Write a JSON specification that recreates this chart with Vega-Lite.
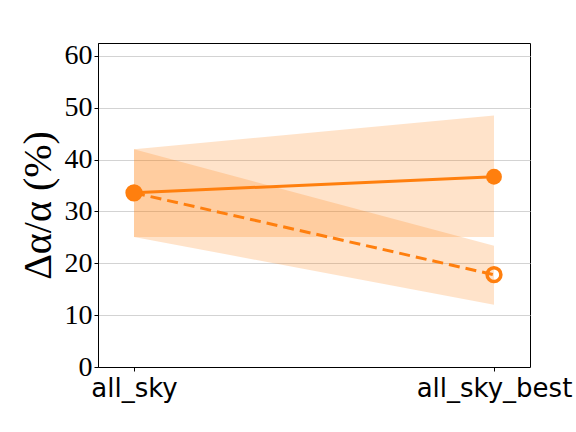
{
  "$schema": "https://vega.github.io/schema/vega-lite/v6.json",
  "autosize": {"type": "none"},
  "padding": {"left": 98, "top": 43, "right": 46, "bottom": 65},
  "width": 432,
  "height": 324,
  "background": "white",
  "config": {
    "view": {"stroke": "black", "strokeWidth": 1},
    "axis": {"domainColor": "black", "tickColor": "black", "gridColor": "#d3d3d3"}
  },
  "data": {"values": [
    {"case": "all_sky", "series": "solid", "value": 33.6, "lo": 25.1, "hi": 42.0},
    {"case": "all_sky_best", "series": "solid", "value": 36.7, "lo": 25.1, "hi": 48.5},
    {"case": "all_sky", "series": "dashed", "value": 33.6, "lo": 25.1, "hi": 42.0},
    {"case": "all_sky_best", "series": "dashed", "value": 17.8, "lo": 12.0, "hi": 23.4}
  ]},
  "encoding": {
    "x": {"field": "case", "type": "nominal", "scale": {"type": "point", "padding": 0.1},
      "axis": {"title": null, "labelAngle": 0, "labelFont": "DejaVu Sans", "labelFontSize": 26, "labelColor": "black", "grid": false, "tickSize": 4, "labelPadding": 4}}
  },
  "layer": [
    {
      "mark": {"type": "area", "color": "#ff7f0e", "opacity": 0.22},
      "encoding": {
        "y": {"field": "lo", "type": "quantitative", "scale": {"domain": [0, 62.5], "nice": false},
          "axis": {"values": [0, 10, 20, 30, 40, 50, 60], "title": "Δα/α (%)", "titleFont": "Liberation Serif", "titleFontSize": 40, "titleFontWeight": "normal", "titleColor": "black", "titlePadding": 6, "labelFont": "Liberation Serif", "labelFontSize": 28, "labelColor": "black", "tickSize": 4, "labelPadding": 2, "grid": true}},
        "y2": {"field": "hi"},
        "detail": {"field": "series"}
      }
    },
    {
      "transform": [{"filter": "datum.series == 'dashed'"}],
      "mark": {"type": "line", "color": "#ff7f0e", "strokeWidth": 3, "strokeDash": [11, 6]},
      "encoding": {"y": {"field": "value", "type": "quantitative"}}
    },
    {
      "transform": [{"filter": "datum.series == 'solid'"}],
      "mark": {"type": "line", "color": "#ff7f0e", "strokeWidth": 3},
      "encoding": {"y": {"field": "value", "type": "quantitative"}}
    },
    {
      "transform": [{"filter": "datum.series == 'dashed'"}],
      "mark": {"type": "point", "shape": "circle", "filled": false, "color": "#ff7f0e", "strokeWidth": 3.5, "size": 190, "opacity": 1},
      "encoding": {"y": {"field": "value", "type": "quantitative"}}
    },
    {
      "transform": [{"filter": "datum.series == 'solid'"}],
      "mark": {"type": "point", "shape": "circle", "filled": true, "color": "#ff7f0e", "size": 250, "opacity": 1},
      "encoding": {"y": {"field": "value", "type": "quantitative"}}
    }
  ]
}
